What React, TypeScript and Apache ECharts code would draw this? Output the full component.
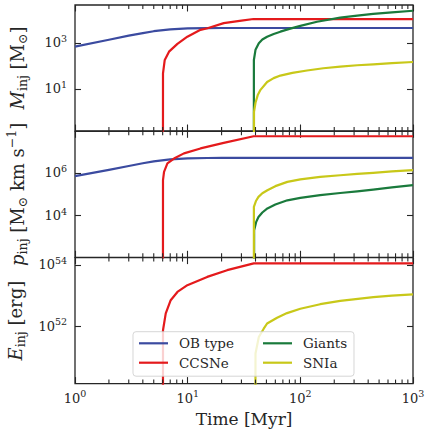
import React, { useEffect, useRef } from 'react';
import * as echarts from 'echarts';

// log10 of an (effectively) zero cumulative injection – drawn off the bottom of each panel
const ZERO = -30;

// ---- Panel 1: injected mass, log10(M_inj / Msun) ----
const obTimeM = [1, 2, 3, 4, 5, 7, 10, 15, 20, 1000];
const obMassLog = [2.84, 3.14, 3.32, 3.43, 3.51, 3.59, 3.635, 3.648, 3.65, 3.65];
const snTimeM = [6.0, 6.04, 6.26, 6.83, 8.11, 9.94, 13.0, 15.0, 20.9, 30.0, 38.4, 1000];
const snMassLog = [ZERO, 1.68, 2.26, 2.62, 2.96, 3.27, 3.57, 3.64, 3.86, 3.97, 4.04, 4.04];
const giTimeM = [38.6, 38.7, 40.0, 42.8, 46, 50.7, 58, 66.5, 80, 100, 140.6, 226, 320, 443, 650, 1000];
const giMassLog = [ZERO, 2.26, 2.7, 2.99, 3.15, 3.27, 3.39, 3.49, 3.61, 3.74, 3.92, 4.1, 4.19, 4.26, 4.33, 4.4];
const iaTimeM = [38.6, 38.8, 40.0, 42.0, 44.3, 50.7, 58, 66.5, 85, 114.6, 160, 226, 320, 445, 650, 1000];
const iaMassLog = [ZERO, 0.0, 0.4, 0.75, 0.96, 1.3, 1.47, 1.58, 1.7, 1.8, 1.9, 1.97, 2.03, 2.07, 2.12, 2.17];

// ---- Panel 2: injected momentum, log10(p_inj / Msun km s^-1) ----
const obTimeP = [1, 2, 3, 4, 5, 7, 10, 15, 20, 1000];
const obMomLog = [5.85, 6.14, 6.32, 6.45, 6.54, 6.63, 6.68, 6.695, 6.7, 6.7];
const snTimeP = [6.0, 6.04, 6.17, 6.61, 7.56, 9.27, 13.0, 20.9, 38.5, 1000];
const snMomLog = [ZERO, 5.66, 6.05, 6.44, 6.67, 6.91, 7.14, 7.4, 7.71, 7.71];
const giTimeP = [38.6, 38.9, 40.5, 42.5, 46, 51, 60, 76.7, 100, 150, 226, 320, 443, 650, 1000];
const giMomLog = [ZERO, 3.32, 3.7, 3.94, 4.15, 4.34, 4.52, 4.72, 4.83, 4.96, 5.06, 5.14, 5.22, 5.32, 5.43];
const iaTimeP = [38.6, 38.7, 40.5, 42.5, 46, 51, 60, 76.7, 100, 150, 226, 320, 443, 650, 1000];
const iaMomLog = [ZERO, 4.41, 4.7, 4.88, 5.05, 5.19, 5.38, 5.58, 5.7, 5.81, 5.89, 5.95, 6.0, 6.07, 6.13];

// ---- Panel 3: injected energy, log10(E_inj / erg) ----
const snTimeE = [6.0, 6.04, 6.39, 7.07, 8.11, 9.94, 14.9, 22.4, 38.6, 1000];
const snEnergyLog = [ZERO, 51.87, 52.42, 52.85, 53.12, 53.34, 53.61, 53.83, 54.05, 54.05];
const iaTimeE = [38.6, 40.0, 42.8, 47.3, 50.7, 62.2, 76.2, 100, 150, 226, 445, 650, 1000];
const iaEnergyLog = [ZERO, 51.11, 51.65, 51.92, 52.09, 52.28, 52.43, 52.57, 52.72, 52.83, 52.95, 53.0, 53.04];

// ---- axes ----
const xMajorExp = [0, 1, 2, 3];
const yTickExp = [[1, 3], [4, 6], [52, 54]];
const yRange = [[-0.83, 4.65], [2.06, 7.94], [50.13, 54.24]];
const names = ['OB type', 'CCSNe', 'Giants', 'SNIa'];

const FONT = 'DejaVu Serif';
const INK = '#262626';
const COL = ['#3b4ba0', '#e41a1c', '#1a7a3c', '#c8c819'];

const GRID_TOPS = [5, 131.3, 257.6];
const GRID_H = 126;
const MINOR_LEN = 4;

const xMinorExp: number[] = [];
for (let d = 0; d < 3; d++) for (let k = 2; k <= 9; k++) xMinorExp.push(d + Math.log10(k));

const pow = (v: number) => `{b|10}{s|${Math.round(v)}}`;
const tickRich = {
  b: { fontSize: 13, fontFamily: FONT, color: INK, lineHeight: 19 },
  s: { fontSize: 9.5, fontFamily: FONT, color: INK, verticalAlign: 'top', lineHeight: 11 },
};
const nameRich = {
  i: { fontSize: 18, fontFamily: FONT, fontStyle: 'italic', color: INK, lineHeight: 24 },
  r: { fontSize: 18, fontFamily: FONT, color: INK, lineHeight: 24 },
  sb: { fontSize: 12.5, fontFamily: FONT, color: INK, verticalAlign: 'bottom', lineHeight: 14 },
  sp: { fontSize: 12.5, fontFamily: FONT, color: INK, verticalAlign: 'top', lineHeight: 12 },
};
const yNames = [
  '{i|M}{sb|inj}{r| [M}{sb|⊙}{r|]}',
  '{i|p}{sb|inj}{r| [M}{sb|⊙}{r| km s}{sp|−1}{r|]}',
  '{i|E}{sb|inj}{r| [erg]}',
];

function buildOption() {
  const grid = GRID_TOPS.map((t) => ({
    left: 75, width: 338, top: t, height: GRID_H, show: true,
    borderColor: INK, borderWidth: 1.3, backgroundColor: 'transparent',
    containLabel: false, outerBoundsMode: 'none',
  }));

  const xAxis: any[] = [];
  GRID_TOPS.forEach((_, gi) => {
    (['bottom', 'top'] as const).forEach((position) => {
      const labelled = gi === 2 && position === 'bottom';
      xAxis.push({
        type: 'value', gridIndex: gi, position, offset: 0, min: 0, max: 3,
        axisLine: { show: false, onZero: false },
        axisTick: {
          show: true, inside: true, length: 6.5, customValues: xMajorExp,
          lineStyle: { color: INK, width: 1.1 },
        },
        axisLabel: labelled
          ? { show: true, customValues: xMajorExp, formatter: pow, margin: 5, rich: tickRich }
          : { show: false },
        splitLine: { show: false },
        name: labelled ? 'Time [Myr]' : '',
        nameLocation: 'middle', nameGap: 27,
        nameTextStyle: { fontFamily: FONT, fontSize: 17, color: INK },
      });
    });
  });

  const yAxis: any[] = [];
  GRID_TOPS.forEach((_, gi) => {
    ['left', 'right'].forEach((position) => {
      const left = position === 'left';
      yAxis.push({
        type: 'value', gridIndex: gi, position, offset: 0, min: yRange[gi][0], max: yRange[gi][1],
        axisLine: { show: false, onZero: false },
        axisTick: { show: true, inside: true, length: 6, customValues: yTickExp[gi], lineStyle: { color: INK, width: 1.1 } },
        axisLabel: left
          ? { show: true, customValues: yTickExp[gi], formatter: pow, margin: 8, rich: tickRich }
          : { show: false },
        splitLine: { show: false },
        name: left ? yNames[gi] : '',
        nameLocation: 'middle', nameRotate: 90, nameGap: 46,
        nameTextStyle: { rich: nameRich, color: INK },
      });
    });
  });

  const line = (k: number, gi: number, t: number[], v: number[]) => ({
    type: 'line', name: names[k], xAxisIndex: gi * 2, yAxisIndex: gi * 2,
    data: t.map((ti, j) => [Math.log10(ti), v[j]]),
    symbol: 'none', showSymbol: false, clip: true, silent: true, z: 2,
    lineStyle: { color: COL[k], width: 2.2, join: 'round' }, itemStyle: { color: COL[k] },
  });

  // minor (2..9 x 10^n) ticks on the top and bottom edge of each panel, placed through the axis scale
  const minorTicks = (gi: number) => ({
    type: 'custom', xAxisIndex: gi * 2, yAxisIndex: gi * 2, silent: true, clip: false, z: 3,
    data: xMinorExp.map((x) => [x, yRange[gi][0]]),
    renderItem: (_p: any, api: any) => {
      const x = api.value(0);
      const b = api.coord([x, yRange[gi][0]]);
      const t = api.coord([x, yRange[gi][1]]);
      const style = { stroke: INK, lineWidth: 1.1 };
      return {
        type: 'group',
        children: [
          { type: 'line', shape: { x1: b[0], y1: b[1], x2: b[0], y2: b[1] - MINOR_LEN }, style },
          { type: 'line', shape: { x1: t[0], y1: t[1], x2: t[0], y2: t[1] + MINOR_LEN }, style },
        ],
      };
    },
  });

  const series: any[] = [
    line(0, 0, obTimeM, obMassLog),
    line(1, 0, snTimeM, snMassLog),
    line(2, 0, giTimeM, giMassLog),
    line(3, 0, iaTimeM, iaMassLog),
    line(0, 1, obTimeP, obMomLog),
    line(1, 1, snTimeP, snMomLog),
    line(2, 1, giTimeP, giMomLog),
    line(3, 1, iaTimeP, iaMomLog),
    line(1, 2, snTimeE, snEnergyLog),
    line(3, 2, iaTimeE, iaEnergyLog),
    minorTicks(0), minorTicks(1), minorTicks(2),
  ];

  const legendPos = [[139, 335.3], [139, 354.7], [263, 335.3], [263, 354.7]];
  const legend = [0, 1, 2, 3].map((k) => ({
    data: [names[k]], left: legendPos[k][0], top: legendPos[k][1], orient: 'vertical',
    icon: 'rect', itemWidth: 29, itemHeight: 2.2, padding: 0, selectedMode: false, z: 20,
    textStyle: { fontFamily: FONT, fontSize: 13.5, color: INK, padding: [0, 0, 0, 6], lineHeight: 16 },
  }));

  return {
    animation: false,
    backgroundColor: '#ffffff',
    grid, xAxis, yAxis, series, legend,
    graphic: [{
      type: 'rect', z: 10, silent: true,
      shape: { x: 133, y: 331.7, width: 221, height: 44.5, r: 3 },
      style: { fill: 'rgba(255,255,255,0.8)', stroke: 'rgba(204,204,204,0.8)', lineWidth: 1 },
    }],
  };
}

export default function App() {
  const ref = useRef<HTMLDivElement>(null);
  useEffect(() => {
    if (!ref.current) return;
    const chart = echarts.init(ref.current, undefined, { renderer: 'svg' });
    chart.setOption(buildOption() as any);
    return () => chart.dispose();
  }, []);
  return <div ref={ref} style={{ position: 'absolute', left: 0, top: 0, width: 425, height: 432 }} />;
}
